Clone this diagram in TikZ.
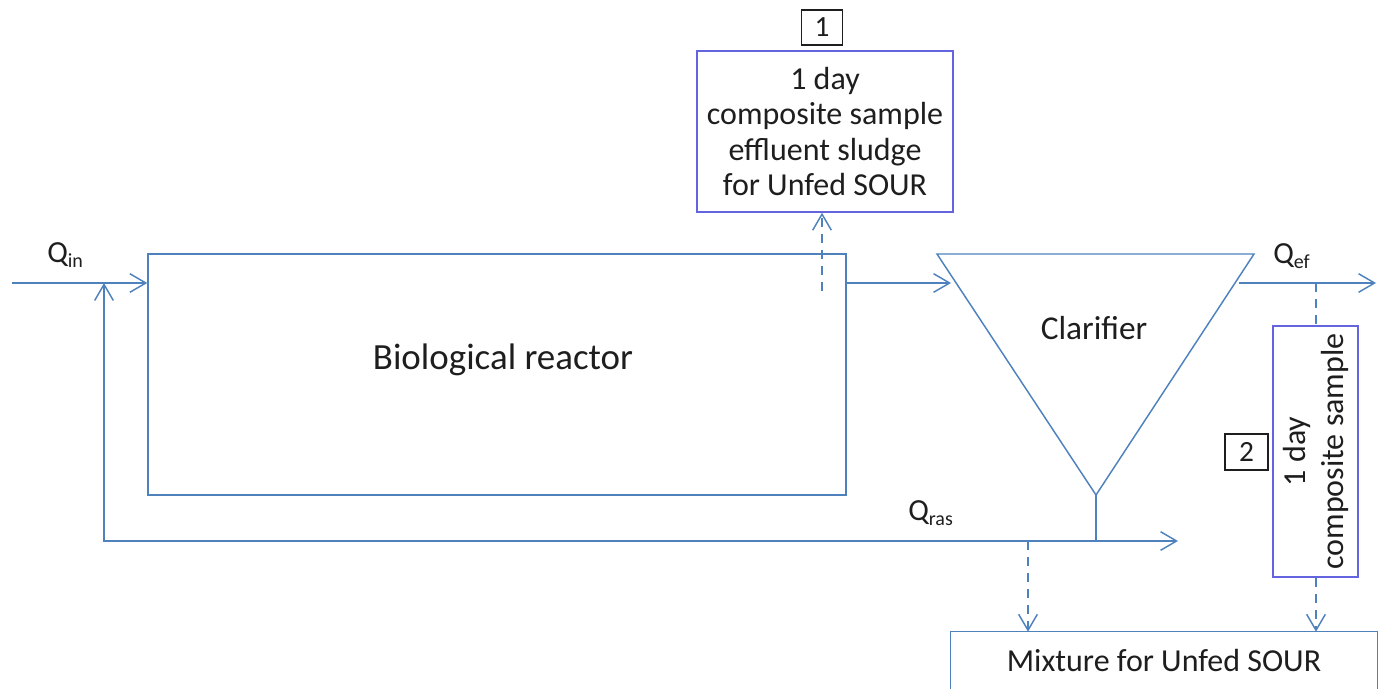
\documentclass[tikz,border=0pt]{standalone}
\usepackage{fontspec}
\setmainfont{Carlito}
\usetikzlibrary{arrows.meta}
\definecolor{linecol}{RGB}{79,129,189}
\definecolor{boxcol}{RGB}{100,100,225}
\definecolor{txtcol}{RGB}{30,30,30}
\newcommand\qsub[1]{\raisebox{-0.35ex}{\fontsize{15}{15}\selectfont #1}}
\tikzset{
  ln/.style={draw=linecol, line width=1.1pt},
  flow/.style={ln, -{Straight Barb[length=12pt,width=14pt]}},
  dflow/.style={ln, dash pattern=on 7pt off 5pt, -{Straight Barb[length=12pt,width=14pt]}},
  dln/.style={ln, dash pattern=on 7pt off 5pt},
  sbox/.style={draw=boxcol, line width=1.1pt, inner sep=0pt, align=center, text=txtcol,
    font=\fontsize{24}{26.5}\selectfont},
  numbox/.style={draw=txtcol, line width=1.1pt, inner sep=0pt, text=txtcol,
    font=\fontsize{22}{24}\selectfont},
  qlab/.style={anchor=base west, inner sep=0pt, text=txtcol, font=\fontsize{23}{25}\selectfont},
}
\begin{document}
\begin{tikzpicture}[x=0.75pt,y=-0.75pt]
\useasboundingbox (0,0) rectangle (1378,689);
% main units
\node[ln, minimum width=523.5pt, minimum height=180.75pt, inner sep=0pt] (reactor) at (497,374.5) {};
\node[text=txtcol, font=\fontsize{27.7}{30}\selectfont] (rtext) at (503,360) {Biological reactor};
\coordinate (cTL) at (937,254);
\coordinate (cTR) at (1254,254);
\coordinate (cA) at (1096,495);
\draw[ln] (cTL) -- (cTR) -- (cA) -- cycle;
\node[text=txtcol, font=\fontsize{25}{27}\selectfont] (ctext) at (1094,328) {Clarifier};
% sample boxes
\node[sbox, minimum width=192pt, minimum height=120.75pt] (box1) at (825,131.5)
  {1 day\\composite sample\\effluent sludge\\for Unfed SOUR};
\node[numbox, minimum width=30.75pt, minimum height=26.25pt] (lab1) at (822,27.5) {1};
\node[sbox, minimum width=63.75pt, minimum height=188.25pt] (box2) at (1315.5,451.5) {};
\node[text=txtcol, rotate=90, align=center, inner sep=0pt,
  font=\fontsize{24}{28.5}\selectfont] (b2text) at (box2.center) {1 day\\composite sample};
\node[numbox, minimum width=32.25pt, minimum height=27pt] (lab2) at (1246.5,452) {2};
\node[inner sep=0pt, minimum width=319.5pt, minimum height=42.75pt, text=txtcol,
  font=\fontsize{24}{26.5}\selectfont] (mix) at (1164,660.5) {Mixture for Unfed SOUR};
\draw[ln] (mix.south west) -- (mix.north west) -- (mix.north east) -- (mix.south east);
% flow coordinates
\coordinate (inS) at (12,283);
\coordinate (inJ) at (104,283);
\coordinate (rasL) at (104,541);
\coordinate (rasJ) at (1096,541);
\coordinate (rasE) at (1178,541);
\coordinate (clIn) at (951,283);
\coordinate (efS) at (1239,283);
\coordinate (efE) at (1376,283);
\coordinate (d1) at (822,291);
\coordinate (d2) at (1316,283);
\coordinate (d3) at (1028,541);
% flows
\draw[flow] (inS) -- (inS -| reactor.west);
\draw[flow] (rasJ) -- (rasL) -- (inJ);
\draw[flow] (rasJ) -- (rasE);
\draw[ln] (cA) -- (rasJ);
\draw[flow] (reactor.east |- inS) -- (clIn);
\draw[flow] (efS) -- (efE);
\draw[dflow] (d1) -- (d1 |- box1.south);
\draw[dln] (d2) -- (d2 |- box2.north);
\draw[dflow] (d2 |- box2.south) -- (d2 |- mix.north);
\draw[dflow] (d3) -- (d3 |- mix.north);
% labels
\node[qlab] (qin) at (47,262) {Q\qsub{in}};
\node[qlab] (qef) at (1273,263) {Q\qsub{ef}};
\node[qlab] (qras) at (908,520) {Q\qsub{ras}};
\end{tikzpicture}
\end{document}
